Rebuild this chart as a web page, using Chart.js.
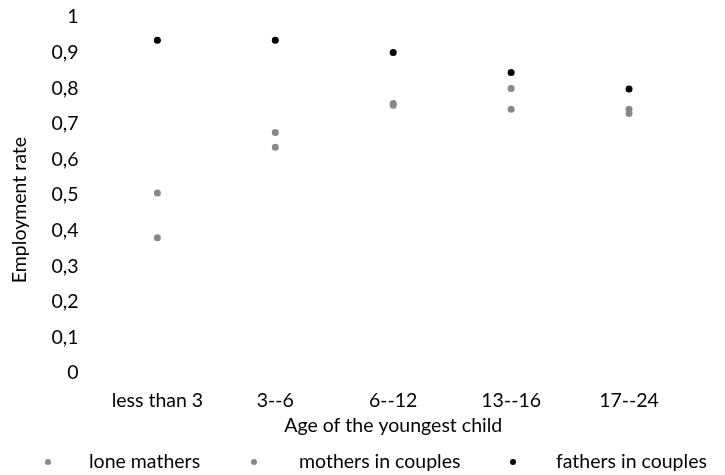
<!DOCTYPE html>
<html>
<head>
<meta charset="utf-8">
<script src="https://cdn.jsdelivr.net/npm/chart.js@4.4.1/dist/chart.umd.min.js"></script>
<style>
  html, body { margin: 0; padding: 0; background: #fff; }
  #wrap { position: relative; width: 725px; height: 475px; }
  #legend {
    position: absolute; left: 0; top: 449px; width: 725px; height: 24px;
    font-family: Lato, sans-serif; font-size: 19.5px; color: #000;
  }
  .item { position: absolute; top: 0; line-height: 24px; white-space: nowrap; }
  .dot { position: absolute; width: 6px; height: 6px; border-radius: 50%; top: 10px; }
</style>
</head>
<body>
<div id="wrap">
  <canvas id="chart" width="725" height="475"></canvas>
  <div id="legend"></div>
</div>
<script>
// categories and values
const ageGroups = ["less than 3", "3--6", "6--12", "13--16", "17--24"];
const loneMothers = [0.38, 0.634, 0.752, 0.741, 0.729];
const mothersInCouples = [0.506, 0.676, 0.757, 0.799, 0.741];
const fathersInCouples = [0.935, 0.935, 0.900, 0.844, 0.798];
const seriesNames = ["lone mathers", "mothers in couples", "fathers in couples"];
const seriesColors = ["#898989", "#898989", "#000000"];

Chart.defaults.font.family = "Lato, sans-serif";
Chart.defaults.font.size = 19.5;
Chart.defaults.color = "#000";

function makeSet(i, values) {
    return {
        label: seriesNames[i],
        data: values,
        showLine: false,
        pointRadius: 3.5,
        pointHoverRadius: 3.5,
        pointBorderWidth: 0,
        backgroundColor: seriesColors[i],
        borderColor: seriesColors[i]
    };
}

// tick marks are hidden, their length is only used as the gap to the labels
const chart = new Chart(document.getElementById("chart"), {
    type: "line",
    data: {
        labels: ageGroups,
        datasets: [
            makeSet(0, loneMothers),
            makeSet(1, mothersInCouples),
            makeSet(2, fathersInCouples)
        ]
    },
    options: {
        responsive: false,
        animation: false,
        layout: { padding: { left: 4, right: 37, top: 17, bottom: 38 } },
        plugins: { legend: { display: false }, tooltip: { enabled: false } },
        scales: {
            x: {
                offset: true,
                grid: { display: false, tickLength: 16 },
                border: { display: false },
                ticks: { padding: 0, maxRotation: 0 },
                title: { display: true, text: "Age of the youngest child", padding: { top: 1, bottom: 0 } }
            },
            y: {
                min: 0,
                max: 1,
                grid: { display: false, tickLength: 20 },
                border: { display: false },
                ticks: {
                    stepSize: 0.1,
                    padding: 0,
                    callback: v => {
                        const r = Math.round(v * 10) / 10;
                        return (r === 0 || r === 1) ? String(r) : r.toFixed(1).replace(".", ",");
                    }
                },
                title: { display: true, text: "Employment rate      ", padding: { top: 4, bottom: 20 } }
            }
        }
    }
});

// legend row under the chart
const legend = document.getElementById("legend");
const dotX = [48, 254, 513];
const textX = [89, 299, 556];
seriesNames.forEach((name, i) => {
    const dot = document.createElement("span");
    dot.className = "dot";
    dot.style.left = (dotX[i] - 3) + "px";
    dot.style.background = seriesColors[i];
    legend.appendChild(dot);
    const item = document.createElement("span");
    item.className = "item";
    item.style.left = textX[i] + "px";
    item.textContent = name;
    legend.appendChild(item);
});
</script>
</body>
</html>
